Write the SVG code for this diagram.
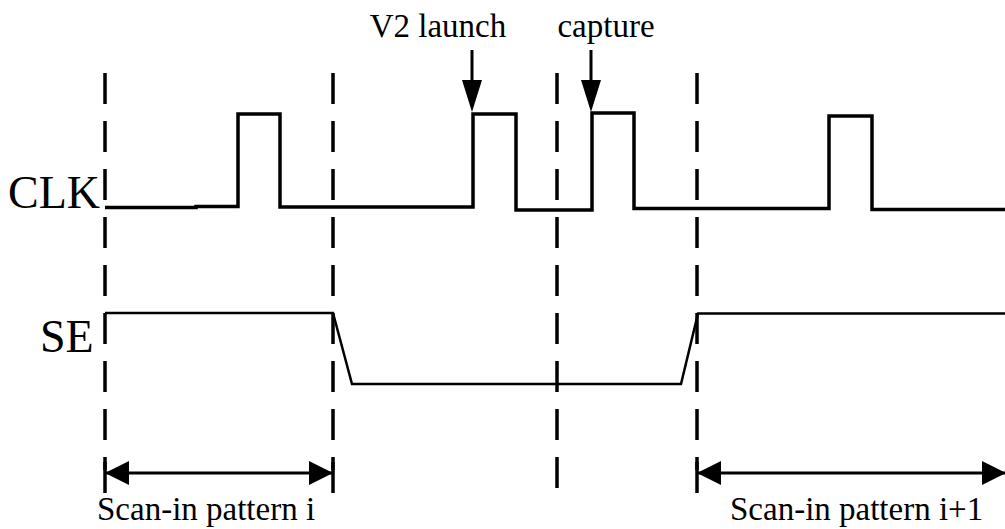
<svg xmlns="http://www.w3.org/2000/svg" width="1005" height="529" viewBox="0 0 1005 529">
<style>
text{font-family:'Liberation Serif','Tinos','Times New Roman','DejaVu Serif','Noto Serif',serif;fill:#000}
.dash{stroke:#000;stroke-width:3.5;stroke-dasharray:31 17;fill:none}
.sig{stroke:#000;fill:none;stroke-linejoin:miter}
.tick{stroke:#000;stroke-width:3.5}
</style>
<defs>
<marker id="ah" viewBox="0 0 24 24" refX="23" refY="12" markerWidth="24" markerHeight="24" markerUnits="userSpaceOnUse" orient="auto-start-reverse">
<path d="M0 0 L24 12 L0 24 Z" fill="#000"/>
</marker>
</defs>
<g id="labels">
<text x="8" y="208" font-size="46" font-family="Liberation Serif, serif">CLK</text>
<text x="40" y="352" font-size="46" font-family="Liberation Serif, serif">SE</text>
<text x="438" y="37" font-size="33" text-anchor="middle" font-family="Liberation Serif, serif">V2 launch</text>
<text x="606" y="37" font-size="33" text-anchor="middle" font-family="Liberation Serif, serif">capture</text>
<text x="97" y="520" font-size="33" font-family="Liberation Serif, serif">Scan-in pattern i</text>
<text x="730" y="520" font-size="33" font-family="Liberation Serif, serif">Scan-in pattern i+1</text>
</g>
<g id="dashed-lines">
<line class="dash" x1="105" y1="73" x2="105" y2="470"/>
<line class="dash" x1="333" y1="73" x2="333" y2="470"/>
<line class="dash" x1="557" y1="73" x2="557" y2="500"/>
<line class="dash" x1="697" y1="73" x2="697" y2="470"/>
</g>
<g id="CLK">
<path class="sig" stroke-width="3.5" d="M105 207.5 H196 V206.5 H238 V114 H280 V207 H473 V114 H516 V210 H592 V113 H634 V208.5 H829 V116 H872 V209.5 H1005"/>
</g>
<g id="SE">
<path class="sig" stroke-width="2.5" d="M105 313 H333 L352 384 H681 L698 313.5 H1005"/>
</g>
<g id="connectors">
<line x1="472" y1="50" x2="472" y2="80" stroke="#000" stroke-width="3"/>
<path d="M462 80 H482 L472 112 Z" fill="#000"/>
<line x1="591" y1="50" x2="591" y2="80" stroke="#000" stroke-width="3"/>
<path d="M581 80 H601 L591 112 Z" fill="#000"/>
<line class="tick" x1="105" y1="462" x2="105" y2="493"/>
<line class="tick" x1="333" y1="462" x2="333" y2="493"/>
<line class="tick" x1="697" y1="462" x2="697" y2="493"/>
<line x1="106" y1="473" x2="332" y2="473" stroke="#000" stroke-width="3" marker-start="url(#ah)" marker-end="url(#ah)"/>
<line x1="698" y1="473" x2="1005" y2="473" stroke="#000" stroke-width="3" marker-start="url(#ah)" marker-end="url(#ah)"/>
</g>
</svg>
